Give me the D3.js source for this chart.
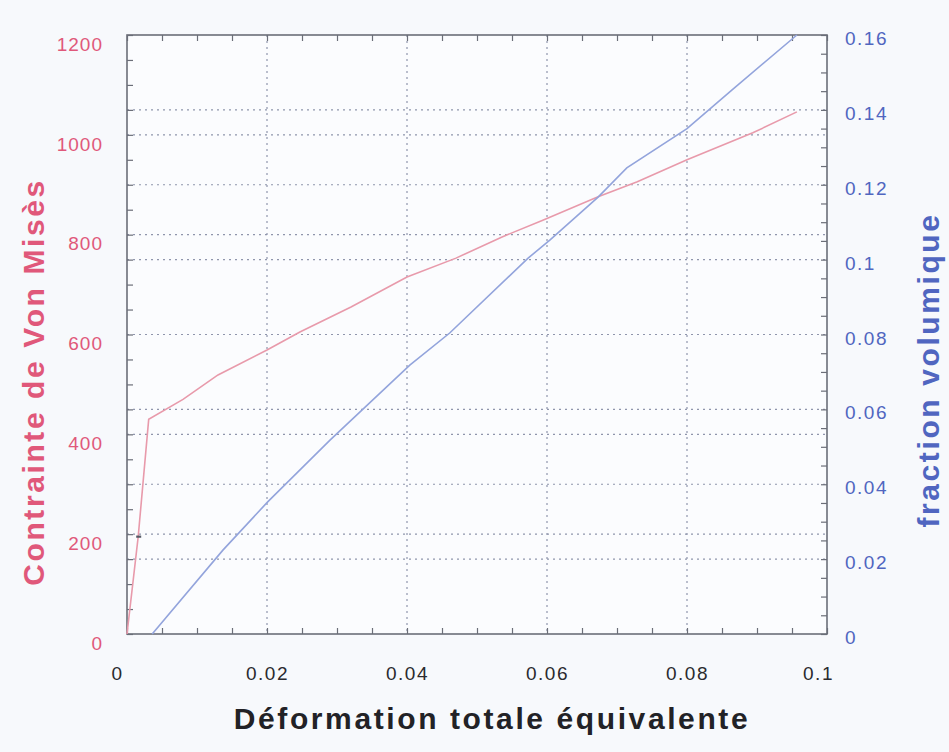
<!DOCTYPE html>
<html>
<head>
<meta charset="utf-8">
<script src="https://cdn.jsdelivr.net/npm/d3@7"></script>
<style>
  html, body { margin: 0; padding: 0; background: #f7f9fc; }
  svg { display: block; }
  text { font-family: "Liberation Sans", Arial, sans-serif; }
</style>
</head>
<body>
<svg id="chart" width="949" height="752"></svg>
<script>
// Strain (déformation totale équivalente) vs. Von Mises stress
const stressStrain = [0, 0.0016, 0.0031, 0.008, 0.013, 0.02, 0.0247, 0.032, 0.040, 0.047, 0.0535, 0.0594, 0.0673, 0.0729, 0.080, 0.0894, 0.0957];
const stressValues = [0, 195, 430, 470, 519, 569, 605, 655, 715, 753, 795, 829, 876, 906, 950, 1004, 1046];

// Strain vs. volume fraction
const fractionStrain = [0.0036, 0.0137, 0.0201, 0.029, 0.0404, 0.0461, 0.0573, 0.0604, 0.0673, 0.0714, 0.080, 0.0864, 0.0957];
const fractionValues = [0, 0.0224, 0.0353, 0.0518, 0.0718, 0.0804, 0.1004, 0.1052, 0.1167, 0.1245, 0.135, 0.1453, 0.160];

// Tick labels
const xTicks = [0, 0.02, 0.04, 0.06, 0.08, 0.1];
const xTickLabels = ["0", "0.02", "0.04", "0.06", "0.08", "0.1"];
const leftTicks = [0, 200, 400, 600, 800, 1000, 1200];
const rightTicks = [0, 0.02, 0.04, 0.06, 0.08, 0.1, 0.12, 0.14, 0.16];
const rightTickLabels = ["0", "0.02", "0.04", "0.06", "0.08", "0.1", "0.12", "0.14", "0.16"];

const svg = d3.select("#chart");
const L = 127, R = 827, T = 35, B = 634;

const x = d3.scaleLinear().domain([0, 0.1]).range([L, R]);
const yL = d3.scaleLinear().domain([0, 1200]).range([B, T]);
const yR = d3.scaleLinear().domain([0, 0.16]).range([B, T]);

const pink = "#e0587a", blue = "#5066c0";
const axisCol = "#6b6e78";

svg.append("rect").attr("x", L).attr("y", T).attr("width", R - L).attr("height", B - T)
  .attr("fill", "#fbfcfe");

// Dotted grid
const grid = svg.append("g").attr("stroke", "#8f95ac").attr("stroke-width", 1.2)
  .attr("stroke-dasharray", "2,4").attr("fill", "none");
xTicks.filter(d => d > 0 && d < 0.1).forEach(d => {
  grid.append("line").attr("x1", x(d)).attr("x2", x(d)).attr("y1", T).attr("y2", B);
});
leftTicks.filter(d => d > 0 && d < 1200).forEach(d => {
  grid.append("line").attr("x1", L).attr("x2", R).attr("y1", yL(d)).attr("y2", yL(d));
});
rightTicks.filter(d => d > 0 && d < 0.16).forEach(d => {
  grid.append("line").attr("x1", L).attr("x2", R).attr("y1", yR(d)).attr("y2", yR(d));
});

// Inward tick marks on all four sides
function tickSet(axisGen, scale, tickVals, transform) {
  const g = svg.append("g").attr("transform", transform)
    .call(axisGen(scale).tickValues(tickVals).tickFormat("").tickSizeInner(-6).tickSizeOuter(0));
  g.select(".domain").remove();
  g.selectAll(".tick line").attr("stroke", axisCol).attr("stroke-width", 1.2);
  return g;
}
const xMinor = d3.range(0, 0.1001, 0.005);
const yLMinor = d3.range(0, 1201, 50);
const yRMinor = d3.range(0, 0.1601, 0.005);
tickSet(d3.axisBottom, x, xMinor, `translate(0,${B})`);
tickSet(d3.axisTop, x, xMinor, `translate(0,${T})`);
tickSet(d3.axisLeft, yL, yLMinor, `translate(${L},0)`);
tickSet(d3.axisRight, yR, yRMinor, `translate(${R},0)`);

// Frame
svg.append("rect").attr("x", L).attr("y", T).attr("width", R - L).attr("height", B - T)
  .attr("fill", "none").attr("stroke", axisCol).attr("stroke-width", 1.6);

// Curves
const lineStress = d3.line().x((d, i) => x(stressStrain[i])).y(d => yL(d));
const lineFraction = d3.line().x((d, i) => x(fractionStrain[i])).y(d => yR(d));

svg.append("path").datum(stressValues).attr("d", lineStress)
  .attr("fill", "none").attr("stroke", "#e89aab").attr("stroke-width", 1.6);
svg.append("path").datum(fractionValues).attr("d", lineFraction)
  .attr("fill", "none").attr("stroke", "#93a4dc").attr("stroke-width", 1.6);

// Small dark marker on the elastic segment
svg.append("line")
  .attr("x1", x(stressStrain[1]) - 2).attr("x2", x(stressStrain[1]) + 3)
  .attr("y1", yL(stressValues[1])).attr("y2", yL(stressValues[1]))
  .attr("stroke", "#555a66").attr("stroke-width", 2.2);

// Tick labels via axes
const xAx = svg.append("g").attr("transform", `translate(0,${B})`)
  .call(d3.axisBottom(x).tickValues(xTicks).tickFormat((d, i) => xTickLabels[i]).tickSize(0).tickPadding(33));
xAx.select(".domain").remove();
xAx.selectAll("text").attr("font-size", 19).attr("fill", "#2a2a2e").attr("letter-spacing", 1.5)
  .attr("font-family", "'Liberation Sans', Arial, sans-serif")
  .attr("dx", (d, i) => i === 0 ? -10 : (i === xTicks.length - 1 ? -9 : 0));

const lAx = svg.append("g").attr("transform", `translate(${L},0)`)
  .call(d3.axisLeft(yL).tickValues(leftTicks).tickFormat(d3.format("d")).tickSize(0).tickPadding(24));
lAx.select(".domain").remove();
lAx.selectAll("text").attr("font-size", 19).attr("fill", pink).attr("letter-spacing", 1)
  .attr("font-family", "'Liberation Sans', Arial, sans-serif").attr("dy", "0.8em");

const rAx = svg.append("g").attr("transform", `translate(${R},0)`)
  .call(d3.axisRight(yR).tickValues(rightTicks).tickFormat((d, i) => rightTickLabels[i]).tickSize(0).tickPadding(18));
rAx.select(".domain").remove();
rAx.selectAll("text").attr("font-size", 19).attr("fill", blue).attr("letter-spacing", 1.5)
  .attr("font-family", "'Liberation Sans', Arial, sans-serif").attr("dy", "0.5em");

// Axis titles
svg.append("text").attr("x", 492).attr("y", 729).attr("text-anchor", "middle")
  .attr("font-size", 30).attr("font-weight", "bold").attr("letter-spacing", 2.6)
  .attr("fill", "#222226").text("Déformation totale équivalente");

svg.append("text").attr("transform", "translate(44,382) rotate(-90)").attr("text-anchor", "middle")
  .attr("font-size", 30).attr("font-weight", "bold").attr("letter-spacing", 2.6)
  .attr("fill", pink).text("Contrainte de Von Misès");

svg.append("text").attr("transform", "translate(939,370) rotate(-90)").attr("text-anchor", "middle")
  .attr("font-size", 30).attr("font-weight", "bold").attr("letter-spacing", 2.6)
  .attr("fill", blue).text("fraction volumique");
</script>
</body>
</html>
